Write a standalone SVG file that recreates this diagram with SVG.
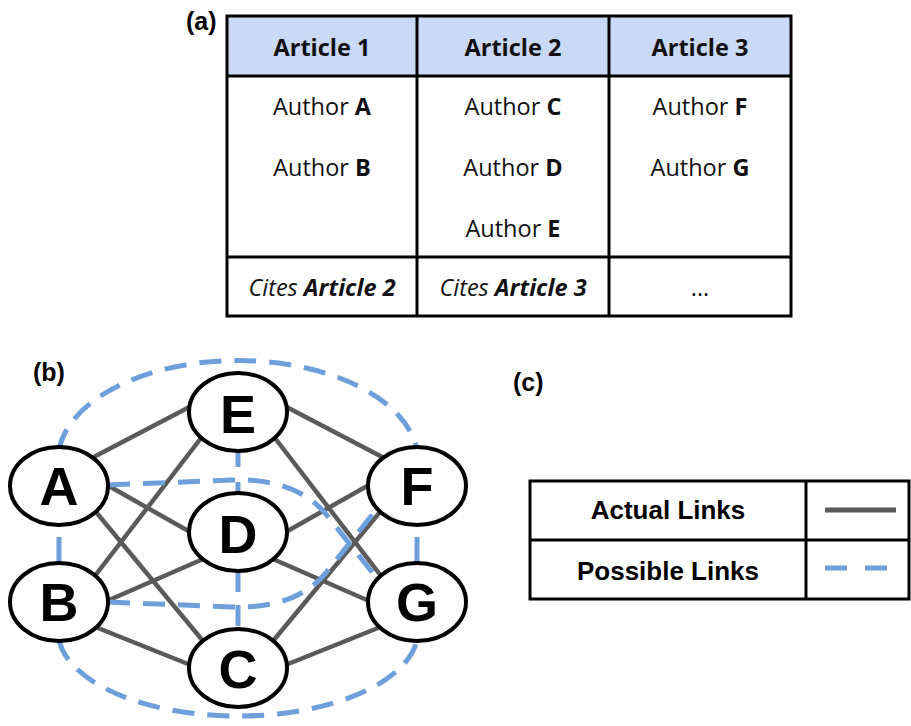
<svg xmlns="http://www.w3.org/2000/svg" width="911" height="726" viewBox="0 0 911 726">
<style>
.lab{font-family:"Liberation Sans",Arial,sans-serif;font-weight:bold;font-size:25px;fill:#000}
.grid{fill:none;stroke:#000;stroke-width:3}
.cell{font-family:"Open Sans","Noto Sans",sans-serif;font-size:23.5px;fill:#111;text-anchor:middle}
.hd{font-weight:bold}
.b{font-weight:bold}
.it{font-style:italic}
.node ellipse{fill:#fff;stroke:#000;stroke-width:4}
.node text{font-family:"Liberation Sans",Arial,sans-serif;font-weight:bold;font-size:54px;text-anchor:middle;fill:#000}
.actual{fill:none;stroke:#5a5a5a;stroke-width:4.5}
.possible{fill:none;stroke:#6e9fdb;stroke-width:5;stroke-dasharray:22 13}
.leg{font-family:"Liberation Sans",Arial,sans-serif;font-weight:bold;font-size:26px;text-anchor:middle;fill:#000}
</style>

<!-- (a) table -->
<text class="lab" x="186" y="30">(a)</text>
<g id="table-a">
  <rect x="227" y="16" width="564" height="60" fill="#cad9f5"/>
  <rect class="grid" x="227" y="16" width="564" height="300"/>
  <line class="grid" x1="227" y1="76" x2="791" y2="76"/>
  <line class="grid" x1="227" y1="257" x2="791" y2="257"/>
  <line class="grid" x1="417" y1="16" x2="417" y2="316"/>
  <line class="grid" x1="609" y1="16" x2="609" y2="316"/>
  <text class="cell hd" x="322" y="56">Article 1</text>
  <text class="cell hd" x="513" y="56">Article 2</text>
  <text class="cell hd" x="700" y="56">Article 3</text>
  <text class="cell" x="322" y="115">Author <tspan class="b">A</tspan></text>
  <text class="cell" x="322" y="176">Author <tspan class="b">B</tspan></text>
  <text class="cell" x="513" y="115">Author <tspan class="b">C</tspan></text>
  <text class="cell" x="513" y="176">Author <tspan class="b">D</tspan></text>
  <text class="cell" x="513" y="237">Author <tspan class="b">E</tspan></text>
  <text class="cell" x="700" y="115">Author <tspan class="b">F</tspan></text>
  <text class="cell" x="700" y="176">Author <tspan class="b">G</tspan></text>
  <text class="cell it" x="322" y="296">Cites <tspan class="b">Article 2</tspan></text>
  <text class="cell it" x="513" y="296">Cites <tspan class="b">Article 3</tspan></text>
  <text class="cell" x="700" y="296">...</text>
</g>

<!-- (b) graph -->
<text class="lab" x="33" y="381">(b)</text>
<g id="connectors">
  <!-- actual links -->
  <line class="actual" x1="88" y1="460" x2="199" y2="402"/>
  <line class="actual" x1="388" y1="460" x2="277" y2="402"/>
  <line class="actual" x1="100" y1="481" x2="199" y2="537"/>
  <line class="actual" x1="376" y1="481" x2="277" y2="537"/>
  <line class="actual" x1="91" y1="506" x2="208" y2="647"/>
  <line class="actual" x1="385" y1="506" x2="268" y2="647"/>
  <line class="actual" x1="91" y1="581" x2="208" y2="429"/>
  <line class="actual" x1="385" y1="581" x2="268" y2="429"/>
  <line class="actual" x1="100" y1="604" x2="210" y2="556"/>
  <line class="actual" x1="376" y1="604" x2="266" y2="556"/>
  <line class="actual" x1="88" y1="624" x2="198" y2="668"/>
  <line class="actual" x1="388" y1="624" x2="278" y2="668"/>
  <!-- possible links -->
  <path class="possible" d="M59,450 A180,100 0 0 1 417,450"/>
  <path class="possible" d="M59,640 A180,85 0 0 0 417,640"/>
  <path class="possible" d="M108,485 L232,480 Q295,478 325,513 L380,582"/>
  <path class="possible" d="M108,602 L232,607 Q295,609 325,574 L380,505"/>
  <path class="possible" d="M59,537 V562" style="stroke-dasharray:none"/>
  <path class="possible" d="M417,537 V562" style="stroke-dasharray:none"/>
  <path class="possible" d="M238,447 V494" style="stroke-dasharray:20 15"/>
  <path class="possible" d="M238,571 V629" style="stroke-dasharray:21 13"/>
</g>
<g id="node-A" class="node"><ellipse cx="59" cy="486" rx="49" ry="39"/><text x="59" y="505">A</text></g>
<g id="node-B" class="node"><ellipse cx="59" cy="602" rx="49" ry="39"/><text x="59" y="621">B</text></g>
<g id="node-E" class="node"><ellipse cx="238" cy="412" rx="49" ry="39"/><text x="238" y="433">E</text></g>
<g id="node-D" class="node"><ellipse cx="238" cy="532" rx="49" ry="39"/><text x="238" y="553">D</text></g>
<g id="node-C" class="node"><ellipse cx="238" cy="668" rx="49" ry="39"/><text x="238" y="688">C</text></g>
<g id="node-F" class="node"><ellipse cx="417" cy="486" rx="49" ry="39"/><text x="417" y="505">F</text></g>
<g id="node-G" class="node"><ellipse cx="417" cy="602" rx="49" ry="39"/><text x="417" y="621">G</text></g>

<!-- (c) legend -->
<text class="lab" x="513" y="391">(c)</text>
<g id="legend">
  <rect class="grid" x="530" y="481" width="379" height="118"/>
  <line class="grid" x1="530" y1="540" x2="909" y2="540"/>
  <line class="grid" x1="806" y1="481" x2="806" y2="599"/>
  <text class="leg" x="668" y="519">Actual Links</text>
  <text class="leg" x="668" y="580">Possible Links</text>
  <line class="actual" x1="825" y1="510" x2="896" y2="510" style="stroke-width:5"/>
  <line class="possible" x1="825" y1="568" x2="887" y2="568" style="stroke-dasharray:22 18"/>
</g>
</svg>
